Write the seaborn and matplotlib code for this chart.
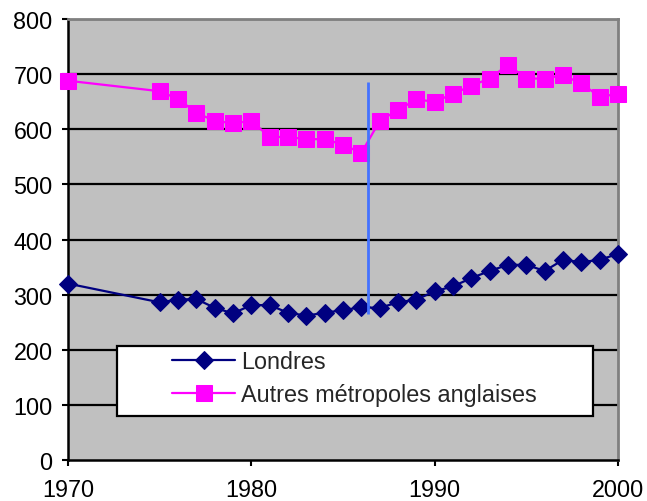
import matplotlib
matplotlib.use("Agg")
import matplotlib.pyplot as plt
import seaborn as sns
import pandas as pd
from matplotlib.patches import Rectangle

years = [1970] + list(range(1975, 2001))
londres = [320, 286, 291, 292, 276, 266, 281, 281, 267, 262, 267, 272, 277,
           276, 286, 291, 306, 315, 330, 343, 354, 354, 343, 363, 359, 363, 374]
autres = [688, 669, 655, 630, 615, 611, 615, 586, 586, 582, 582, 572, 557,
          615, 635, 654, 650, 664, 679, 692, 717, 692, 692, 698, 683, 659, 664]
series_names = ["Londres", "Autres métropoles anglaises"]
x_ticks = [1970, 1980, 1990, 2000]
y_ticks = list(range(0, 801, 100))
marker_year = 1986.36
marker_range = (265, 685)

df = pd.DataFrame({"year": years, series_names[0]: londres, series_names[1]: autres})

sns.set_style("white")
plt.rcParams["font.family"] = ["Liberation Sans", "DejaVu Sans"]

fig = plt.figure(figsize=(6.47, 5.02), dpi=100)
ax = fig.add_axes([68 / 647, 41 / 502, 550 / 647, 441 / 502])
ax.set_facecolor("#C0C0C0")

for y in y_ticks[1:]:
    ax.axhline(y, color="black", lw=1.6, zorder=1)

sns.lineplot(data=df, x="year", y=series_names[0], ax=ax, color="#000080",
             marker="D", markersize=9.5, markeredgecolor="#000080", lw=1.6,
             label=series_names[0], clip_on=False, zorder=3)
sns.lineplot(data=df, x="year", y=series_names[1], ax=ax, color="#FF00FF",
             marker="s", markersize=11, markeredgecolor="#FF00FF", lw=1.6,
             label=series_names[1], clip_on=False, zorder=3)

ax.vlines(marker_year, marker_range[0], marker_range[1], color="#4472FF", lw=2, zorder=4)

ax.set_xlim(1970, 2000)
ax.set_ylim(0, 800)
ax.set_xticks(x_ticks)
ax.set_yticks(y_ticks)
ax.set_xlabel("")
ax.set_ylabel("")
ax.tick_params(axis="both", direction="out", length=4, width=1.5, color="black",
               labelsize=16.8, labelcolor="black", left=True, bottom=True)
ax.tick_params(axis="y", pad=7)
ax.tick_params(axis="x", pad=9)

for side in ["left", "bottom"]:
    ax.spines[side].set_color("black")
    ax.spines[side].set_linewidth(1.8)
for side in ["top", "right"]:
    ax.spines[side].set_visible(True)
    ax.spines[side].set_color("#808080")
    ax.spines[side].set_linewidth(2)

# legend box
box = Rectangle((49 / 550, 44 / 441), 476 / 550, 70 / 441, transform=ax.transAxes,
                facecolor="white", edgecolor="black", lw=1.6, zorder=5)
ax.add_patch(box)
leg = ax.legend(loc="center left", bbox_to_anchor=((172 - 68) / 550, (461 - 379) / 441),
                frameon=False, fontsize=16.8, handlelength=2.7, handletextpad=0.25,
                labelspacing=0.42, borderpad=0, borderaxespad=0)
leg.set_zorder(6)

fig.savefig("out.png", dpi=100)
